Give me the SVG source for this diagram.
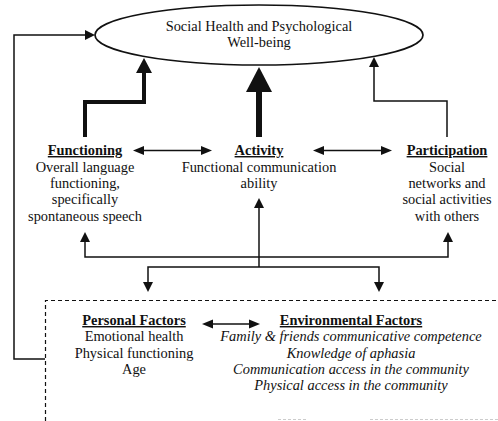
<svg xmlns="http://www.w3.org/2000/svg" width="498" height="421" viewBox="0 0 498 421">
<style>
text{font-family:"Liberation Serif","Times New Roman",serif;font-size:14.4px;fill:#111;text-anchor:middle}
.b{font-weight:bold;text-decoration:underline}
.i{font-style:italic}
.ln{fill:none;stroke:#111;stroke-width:1.5}
</style>
<defs>
<marker id="a" markerUnits="userSpaceOnUse" markerWidth="11" markerHeight="10" refX="0" refY="5" orient="auto-start-reverse"><path d="M0,0 L10,5 L0,10 z" fill="#111"/></marker>
<marker id="d" markerUnits="userSpaceOnUse" markerWidth="12" markerHeight="10" refX="0" refY="5" orient="auto-start-reverse"><path d="M0,0.5 L11,5 L0,9.5 z" fill="#111"/></marker>
<marker id="m" markerUnits="userSpaceOnUse" markerWidth="16" markerHeight="16" refX="0" refY="8" orient="auto"><path d="M0,0 L15,8 L0,16 z" fill="#111"/></marker>
<marker id="L" markerUnits="userSpaceOnUse" markerWidth="26" markerHeight="26" refX="0" refY="13" orient="auto"><path d="M0,0 L25,13 L0,26 z" fill="#111"/></marker>
</defs>

<g id="wellbeing">
<ellipse cx="259" cy="35" rx="164" ry="30" fill="#fff" stroke="#111" stroke-width="1.7"/>
<text x="259" y="31">Social Health and Psychological</text>
<text x="259" y="47">Well-being</text>
</g>

<g id="functioning">
<text x="85" y="155" class="b">Functioning</text>
<text x="85" y="171.5">Overall language</text>
<text x="85" y="188">functioning,</text>
<text x="85" y="204">specifically</text>
<text x="85" y="220.5">spontaneous speech</text>
</g>

<g id="activity">
<text x="259" y="155" class="b">Activity</text>
<text x="259" y="171.5">Functional communication</text>
<text x="259" y="188">ability</text>
</g>

<g id="participation">
<text x="447" y="155" class="b">Participation</text>
<text x="447" y="171.5">Social</text>
<text x="447" y="188">networks and</text>
<text x="447" y="204">social activities</text>
<text x="447" y="220.5">with others</text>
</g>

<g id="context">
<path d="M45.5,421 V300.5 H498" fill="none" stroke="#111" stroke-width="1.2" stroke-dasharray="4,3"/>
<path d="M278,419.5 H306 M370,419.5 H498" fill="none" stroke="#ccc" stroke-width="1" stroke-dasharray="3,2"/>
</g>

<g id="personal">
<text x="134" y="325" class="b">Personal Factors</text>
<text x="134" y="341">Emotional health</text>
<text x="134" y="357.5">Physical functioning</text>
<text x="134" y="374">Age</text>
</g>

<g id="environmental">
<text x="351" y="325" class="b">Environmental Factors</text>
<text x="351" y="341" class="i">Family &amp; friends communicative competence</text>
<text x="351" y="357.5" class="i">Knowledge of aphasia</text>
<text x="351" y="374" class="i">Communication access in the community</text>
<text x="351" y="390" class="i">Physical access in the community</text>
</g>

<g id="connectors">
<path d="M45,359 H14 V35 H85" class="ln" marker-end="url(#a)"/>
<path d="M85,137 V102 H144 V73" fill="none" stroke="#111" stroke-width="4" marker-end="url(#m)"/>
<path d="M259,137 V92" fill="none" stroke="#111" stroke-width="6" marker-end="url(#L)"/>
<path d="M447,137 V101 H374 V67" class="ln" marker-end="url(#a)"/>
<path d="M144,150.5 H201" class="ln" stroke-width="1.8" marker-start="url(#d)" marker-end="url(#d)"/>
<path d="M324,150.5 H381" class="ln" stroke-width="1.8" marker-start="url(#d)" marker-end="url(#d)"/>
<path d="M85,242 V257 H448 V242" class="ln" marker-start="url(#a)" marker-end="url(#a)"/>
<path d="M259,267 V208" class="ln" marker-end="url(#a)"/>
<path d="M148,282 V267 H379 V282" class="ln" marker-start="url(#a)" marker-end="url(#a)"/>
<path d="M213,324 H249" class="ln" stroke-width="1.8" marker-start="url(#d)" marker-end="url(#d)"/>
</g>
</svg>
